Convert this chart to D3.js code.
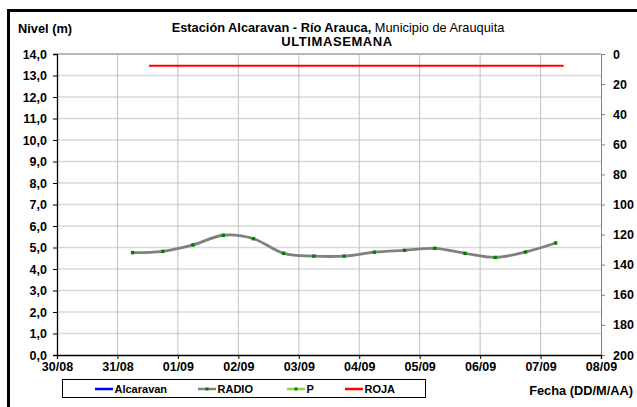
<!DOCTYPE html>
<html><head><meta charset="utf-8">
<script src="https://cdn.jsdelivr.net/npm/d3@7"></script>
<style>body{margin:0;background:#fff}svg{display:block;font-family:Arial,"Liberation Sans",sans-serif}</style>
</head><body><svg id="c" width="637" height="407"></svg>
<script>
const times = ["2023-08-31T06:00","2023-08-31T18:00","2023-09-01T06:00","2023-09-01T18:00","2023-09-02T06:00","2023-09-02T18:00","2023-09-03T06:00","2023-09-03T18:00","2023-09-04T06:00","2023-09-04T18:00","2023-09-05T06:00","2023-09-05T18:00","2023-09-06T06:00","2023-09-06T18:00","2023-09-07T06:00"];
const radio = [4.76,4.82,5.12,5.57,5.41,4.73,4.60,4.60,4.78,4.87,4.96,4.73,4.54,4.79,5.21];
const rojaTimes = ["2023-08-31T12:30","2023-09-07T09:10"];
const rojaValue = 13.45;
const leftTicks = d3.range(0, 14.01, 1);
const rightTicks = d3.range(0, 201, 20);
const dateTicks = ["2023-08-30","2023-08-31","2023-09-01","2023-09-02","2023-09-03","2023-09-04","2023-09-05","2023-09-06","2023-09-07","2023-09-08"];
const legendItems = [
  {name:"Alcaravan", color:"#0000ff", marker:false},
  {name:"RADIO", color:"#808080", marker:true},
  {name:"P", color:"#92d050", marker:true},
  {name:"ROJA", color:"#ff0000", marker:false}
];

const parse = d3.timeParse("%Y-%m-%dT%H:%M");
const parseD = d3.timeParse("%Y-%m-%d");
const svg = d3.select("#c");
const L = 57, R = 601, T = 54, B = 355;
const x = d3.scaleTime().domain([parseD(dateTicks[0]), parseD(dateTicks[dateTicks.length-1])]).range([L, R]);
const y = d3.scaleLinear().domain([0, 14]).range([B, T]);
const y2 = d3.scaleLinear().domain([0, 200]).range([T, B]);

// outer frame
svg.append("path").attr("d", "M8.5,410 V10.5 H640").attr("fill","none").attr("stroke","#000").attr("stroke-width",3);

// grid
const g = svg.append("g");
g.selectAll(".hg").data(leftTicks.slice(1)).join("line")
  .attr("x1", L).attr("x2", R).attr("y1", d=>y(d)).attr("y2", d=>y(d))
  .attr("stroke", d => d===14 ? "#a0a0a0" : "#d9d9d9").attr("stroke-width", 1.5);
g.selectAll(".vg").data(dateTicks.slice(1,-1)).join("line")
  .attr("x1", d=>x(parseD(d))).attr("x2", d=>x(parseD(d))).attr("y1", T).attr("y2", B)
  .attr("stroke", "#c0c0c0").attr("stroke-width", 1);

// axes
const fmt = d3.format(".1f");
const ax = svg.append("g").attr("transform", `translate(${L},0)`)
  .call(d3.axisLeft(y).tickValues(leftTicks).tickSize(4).tickPadding(6).tickFormat(d => fmt(d).replace(".", ",")));
const ar = svg.append("g").attr("transform", `translate(${R},0)`)
  .call(d3.axisRight(y2).tickValues(rightTicks).tickSize(4).tickPadding(8));
const ab = svg.append("g").attr("transform", `translate(0,${B})`)
  .call(d3.axisBottom(x).tickValues(dateTicks.map(parseD)).tickSize(4).tickPadding(3).tickFormat(d3.timeFormat("%d/%m")));
[ax, ar, ab].forEach(a => {
  a.selectAll("text").attr("font-size", 12.5).attr("font-weight", "bold").attr("fill", "#000").attr("font-family","Arial,'Liberation Sans',sans-serif");
});
ax.select(".domain").attr("stroke", "#000").attr("stroke-width", 1.3);
ax.selectAll(".tick line").attr("stroke", "#000");
ab.select(".domain").attr("stroke", "#000").attr("stroke-width", 1.3);
ab.selectAll(".tick line").attr("stroke", "#000");
ar.select(".domain").attr("stroke", "#808080");
ar.selectAll(".tick line").attr("stroke", "#808080");
ar.selectAll("text").attr("dy", "0.32em");

// ROJA line
svg.append("line")
  .attr("x1", x(parse(rojaTimes[0]))).attr("x2", x(parse(rojaTimes[1])))
  .attr("y1", y(rojaValue)).attr("y2", y(rojaValue))
  .attr("stroke", "#ff0000").attr("stroke-width", 2);

// RADIO line
const pts = times.map((t,i) => ({t: parse(t), v: radio[i]}));
svg.append("path").datum(pts)
  .attr("d", d3.line().x(d=>x(d.t)).y(d=>y(d.v)).curve(d3.curveCardinal.tension(0)))
  .attr("fill","none").attr("stroke","#808080").attr("stroke-width",2.8);
svg.selectAll(".m").data(pts).join("rect")
  .attr("x", d=>x(d.t)-1.7).attr("y", d=>y(d.v)-1.7).attr("width",3.4).attr("height",3.4)
  .attr("fill","#008000");

// titles
const t1 = svg.append("text").attr("x", 338).attr("y", 32).attr("text-anchor","middle").attr("font-size", 12.8);
t1.append("tspan").attr("font-weight","bold").text("Estación Alcaravan - Río Arauca,");
t1.append("tspan").text(" Municipio de Arauquita");
svg.append("text").attr("x", 337).attr("y", 46).attr("text-anchor","middle").attr("font-size", 13).attr("letter-spacing", 0.6).attr("font-weight","bold").text("ULTIMASEMANA");
svg.append("text").attr("x", 18).attr("y", 33).attr("font-size", 12.8).attr("font-weight","bold").text("Nivel (m)");
svg.append("text").attr("x", 633).attr("y", 395).attr("text-anchor","end").attr("font-size", 12.8).attr("font-weight","bold").text("Fecha (DD/M/AA)");

// legend
svg.append("rect").attr("x",62.5).attr("y",379.5).attr("width",363).attr("height",18).attr("fill","#fff").attr("stroke","#000").attr("stroke-width",1);
const lx = [95, 198, 287, 345];
legendItems.forEach((it,i) => {
  const gl = svg.append("g").attr("transform", `translate(${lx[i]},389)`);
  gl.append("line").attr("x1",0).attr("x2",18).attr("stroke", it.color).attr("stroke-width", 2.5);
  if (it.marker) gl.append("rect").attr("x",7.5).attr("y",-1.5).attr("width",3).attr("height",3).attr("fill","#008000");
  gl.append("text").attr("x",19.5).attr("y",4).attr("font-size",11).attr("font-weight","bold").text(it.name);
});
</script></body></html>
